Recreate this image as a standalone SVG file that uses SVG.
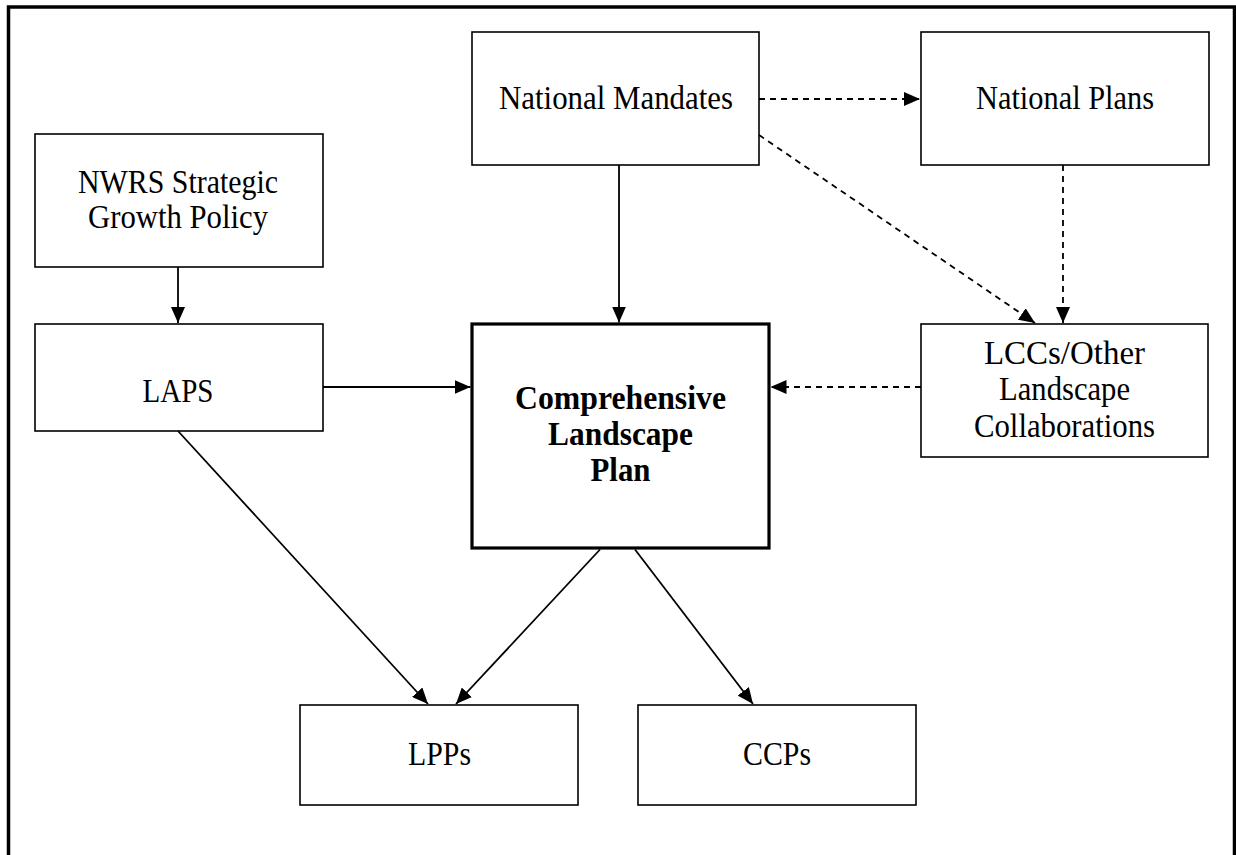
<svg xmlns="http://www.w3.org/2000/svg" width="1236" height="855" viewBox="0 0 1236 855">
<style>
.box{fill:#fff;stroke:#000;stroke-width:1.6}
.main{fill:#fff;stroke:#000;stroke-width:3.2}
.t{font-family:"Liberation Serif","Times New Roman",serif;font-size:33px;fill:#000;text-anchor:middle}
.b{font-weight:bold}
.c{fill:none;stroke:#000;stroke-width:1.8}
.d{stroke-dasharray:6 5}
</style>
<defs>
<marker id="ah" markerUnits="userSpaceOnUse" markerWidth="16" markerHeight="14" refX="16" refY="7" orient="auto">
<path d="M0,0 L16,7 L0,14 z" fill="#000"/>
</marker>
</defs>
<rect width="1236" height="855" fill="#fff"/>
<path d="M8.5,900 V7 H1234.5 V900" fill="none" stroke="#000" stroke-width="3.5"/>

<g id="nwrs">
<rect class="box" x="35" y="134" width="288" height="133"/>
<text class="t" x="178" y="193" textLength="200" lengthAdjust="spacingAndGlyphs">NWRS Strategic</text>
<text class="t" x="178" y="228" textLength="180" lengthAdjust="spacingAndGlyphs">Growth Policy</text>
</g>
<g id="laps">
<rect class="box" x="35" y="324" width="288" height="107"/>
<text class="t" x="178" y="402" textLength="71" lengthAdjust="spacingAndGlyphs">LAPS</text>
</g>
<g id="mandates">
<rect class="box" x="472" y="32" width="287" height="133"/>
<text class="t" x="616" y="109" textLength="234" lengthAdjust="spacingAndGlyphs">National Mandates</text>
</g>
<g id="plans">
<rect class="box" x="921" y="32" width="288" height="133"/>
<text class="t" x="1065" y="109" textLength="178" lengthAdjust="spacingAndGlyphs">National Plans</text>
</g>
<g id="clp">
<rect class="main" x="472" y="324" width="297" height="224"/>
<text class="t b" x="620.5" y="409" textLength="211" lengthAdjust="spacingAndGlyphs">Comprehensive</text>
<text class="t b" x="620.5" y="445" textLength="145" lengthAdjust="spacingAndGlyphs">Landscape</text>
<text class="t b" x="620.5" y="481" textLength="60" lengthAdjust="spacingAndGlyphs">Plan</text>
</g>
<g id="lcc">
<rect class="box" x="921" y="324" width="287" height="133"/>
<text class="t" x="1064.5" y="364" textLength="161" lengthAdjust="spacingAndGlyphs">LCCs/Other</text>
<text class="t" x="1064.5" y="400" textLength="131" lengthAdjust="spacingAndGlyphs">Landscape</text>
<text class="t" x="1064.5" y="437" textLength="181" lengthAdjust="spacingAndGlyphs">Collaborations</text>
</g>
<g id="lpps">
<rect class="box" x="300" y="705" width="278" height="100"/>
<text class="t" x="439.5" y="765" textLength="63" lengthAdjust="spacingAndGlyphs">LPPs</text>
</g>
<g id="ccps">
<rect class="box" x="638" y="705" width="278" height="100"/>
<text class="t" x="777" y="765" textLength="68" lengthAdjust="spacingAndGlyphs">CCPs</text>
</g>

<g id="connectors">
<line class="c" x1="178" y1="267" x2="178" y2="323" marker-end="url(#ah)"/>
<line class="c" x1="619" y1="165" x2="619" y2="322.5" marker-end="url(#ah)"/>
<line class="c" x1="323" y1="387" x2="470.5" y2="387" marker-end="url(#ah)"/>
<line class="c d" x1="921" y1="387" x2="770.5" y2="387" marker-end="url(#ah)"/>
<line class="c d" x1="759" y1="99" x2="920" y2="99" marker-end="url(#ah)"/>
<line class="c d" x1="759" y1="135" x2="1035" y2="323" marker-end="url(#ah)"/>
<line class="c d" x1="1063" y1="165" x2="1063" y2="323" marker-end="url(#ah)"/>
<line class="c" x1="178" y1="431" x2="428" y2="704" marker-end="url(#ah)"/>
<line class="c" x1="600" y1="549.5" x2="456" y2="704" marker-end="url(#ah)"/>
<line class="c" x1="635" y1="549.5" x2="753" y2="704" marker-end="url(#ah)"/>
</g>
</svg>
